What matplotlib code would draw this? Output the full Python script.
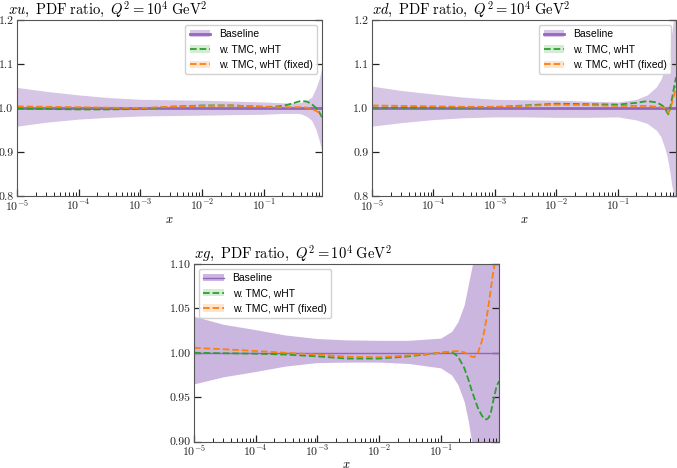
import numpy as np
import matplotlib
matplotlib.use("Agg")
import matplotlib.pyplot as plt
from matplotlib.lines import Line2D
from matplotlib.patches import Patch
from matplotlib.ticker import LogLocator, NullFormatter

plt.rcParams["font.family"] = "serif"
plt.rcParams["font.serif"] = ["cmr10"]
plt.rcParams["mathtext.fontset"] = "cm"
plt.rcParams["axes.formatter.use_mathtext"] = True
plt.rcParams["axes.unicode_minus"] = False

# ---- data ----
xu_x = [1e-5, 3e-5, 1e-4, 3e-4, 1e-3, 3e-3, 1e-2, 3e-2, 0.1, 0.15, 0.2, 0.25,
        0.3, 0.35, 0.4, 0.5, 0.6, 0.7, 0.8, 0.88]
xu_up = [1.047, 1.038, 1.030, 1.024, 1.020, 1.019, 1.018, 1.016, 1.014, 1.013,
         1.012, 1.012, 1.012, 1.012, 1.013, 1.017, 1.025, 1.045, 1.068, 1.094]
xu_lo = [0.959, 0.968, 0.975, 0.979, 0.982, 0.983, 0.984, 0.985, 0.986, 0.987,
         0.988, 0.988, 0.988, 0.988, 0.987, 0.981, 0.972, 0.952, 0.925, 0.900]
xu_wht = [0.999, 0.998, 0.997, 0.997, 0.998, 1.003, 1.006, 1.006, 1.003, 1.003,
          1.005, 1.008, 1.011, 1.014, 1.016, 1.015, 1.009, 1.001, 0.990, 0.979]
xu_fix = [1.004, 1.003, 1.002, 1.001, 1.000, 1.003, 1.005, 1.006, 1.003, 1.002,
          1.002, 1.002, 1.002, 1.002, 1.002, 1.001, 0.998, 0.994, 0.989, 0.983]

xd_x = [1e-5, 3e-5, 1e-4, 3e-4, 1e-3, 3e-3, 1e-2, 3e-2, 0.1, 0.2, 0.3, 0.42,
        0.5, 0.57, 0.62, 0.66, 0.7, 0.75, 0.82, 0.88]
xd_up = [1.050, 1.040, 1.032, 1.025, 1.020, 1.019, 1.018, 1.016, 1.014, 1.020,
         1.030, 1.048, 1.065, 1.086, 1.105, 1.125, 1.140, 1.170, 1.210, 1.250]
xd_lo = [0.959, 0.967, 0.974, 0.978, 0.980, 0.980, 0.979, 0.979, 0.980, 0.973,
         0.965, 0.950, 0.935, 0.912, 0.895, 0.875, 0.855, 0.825, 0.800, 0.795]
xd_wht = [1.001, 1.001, 1.001, 1.001, 1.002, 1.006, 1.010, 1.009, 1.008, 1.012,
          1.016, 1.013, 1.008, 1.002, 0.992, 0.986, 0.998, 1.018, 1.048, 1.070]
xd_fix = [1.006, 1.005, 1.004, 1.003, 1.003, 1.005, 1.008, 1.007, 1.005, 1.005,
          1.005, 1.003, 1.002, 1.001, 0.997, 0.989, 0.995, 1.010, 1.030, 1.050]

xg_x = [1e-5, 3e-5, 1e-4, 3e-4, 1e-3, 3e-3, 1e-2, 3e-2, 0.1, 0.15, 0.19, 0.24,
        0.28, 0.31, 0.35, 0.4, 0.45, 0.5, 0.55, 0.6, 0.65, 0.7, 0.75, 0.8, 0.88]
xg_up = [1.041, 1.032, 1.026, 1.020, 1.016, 1.0145, 1.014, 1.014, 1.0165, 1.024,
         1.035, 1.054, 1.077, 1.092, 1.110, 1.130, 1.150, 1.170, 1.190, 1.200,
         1.210, 1.220, 1.230, 1.240, 1.250]
xg_lo = [0.965, 0.973, 0.979, 0.985, 0.989, 0.9895, 0.9895, 0.988, 0.983, 0.975,
         0.964, 0.945, 0.923, 0.904, 0.885, 0.860, 0.840, 0.820, 0.800, 0.790,
         0.780, 0.770, 0.760, 0.750, 0.740]
xg_wht = [1.000, 0.9995, 0.999, 0.998, 0.996, 0.9935, 0.9935, 0.996, 1.000, 1.001,
          0.996, 0.983, 0.970, 0.960, 0.949, 0.938, 0.931, 0.926, 0.925, 0.927,
          0.933, 0.944, 0.953, 0.962, 0.968]
xg_fix = [1.0055, 1.004, 1.002, 1.000, 0.998, 0.9955, 0.995, 0.997, 1.000, 1.0015,
          1.002, 1.0005, 0.998, 0.996, 0.995, 1.000, 1.010, 1.022, 1.038, 1.055,
          1.072, 1.088, 1.100, 1.110, 1.120]

purple = "#9467bd"
green = "#2ca02c"
orange = "#ff7f0e"

fig = plt.figure(figsize=(6.77, 4.68), dpi=100)

panels = [
    ("u", [0.0251, 0.581, 0.4505, 0.376], xu_x, xu_up, xu_lo, xu_wht, xu_fix,
     (0.8, 1.2), [0.8, 0.9, 1.0, 1.1, 1.2], "upper right", 2.0, 0.38),
    ("d", [0.5495, 0.581, 0.449, 0.376], xd_x, xd_up, xd_lo, xd_wht, xd_fix,
     (0.8, 1.2), [0.8, 0.9, 1.0, 1.1, 1.2], "upper right", 2.0, 0.38),
    ("g", [0.2866, 0.0562, 0.4505, 0.380], xg_x, xg_up, xg_lo, xg_wht, xg_fix,
     (0.9, 1.1), [0.90, 0.95, 1.00, 1.05, 1.10], "upper left", 1.0, 0.48),
]

for flav, pos, x, up, lo, wht, fix, ylim, yticks, loc, blw, balpha in panels:
    ax = fig.add_axes(pos)
    ax.fill_between(x, lo, up, color=purple, alpha=balpha, lw=0)
    ax.axhline(1.0, color=purple, lw=blw)
    ax.plot(x, wht, color=green, ls="--", lw=1.3)
    ax.plot(x, fix, color=orange, ls="--", lw=1.3)

    ax.set_xscale("log")
    ax.set_xlim(1e-5, 0.88)
    ax.xaxis.set_major_locator(LogLocator(base=10, numticks=20))
    ax.xaxis.set_minor_locator(LogLocator(base=10, subs=np.arange(2, 10), numticks=100))
    ax.xaxis.set_minor_formatter(NullFormatter())
    ax.set_ylim(*ylim)
    ax.set_yticks(yticks)
    if flav == "g":
        ax.set_yticklabels([f"{v:.2f}" for v in yticks])
    else:
        ax.set_yticklabels([f"{v:.1f}" for v in yticks])
    ax.tick_params(which="both", direction="in", left=True, right=True,
                   top=False, bottom=True, labelsize=8.5, colors="#222222")
    ax.tick_params(axis="x", which="both", pad=1.5)
    ax.tick_params(axis="y", which="both", pad=2.5)
    ax.tick_params(which="major", length=5, width=0.9)
    ax.tick_params(which="minor", length=2.8, width=0.7)
    for s in ax.spines.values():
        s.set_color("#555555")
    ax.set_xlabel(r"$x$", fontsize=9, labelpad=0)

    title = (r"$x%s,\ \mathrm{PDF\;ratio},\ Q^2 = 10^4\;\mathrm{GeV}^2$" % flav)
    t = ax.set_title(title, loc="left", fontsize=10.5, pad=2)
    if flav == "u":
        t.set_x(-0.03)

    handles = [
        (Patch(facecolor=purple, alpha=balpha, lw=0), Line2D([], [], color=purple, lw=blw)),
        (Patch(facecolor=green, alpha=0.2, lw=0), Line2D([], [], color=green, ls="--", lw=1.3)),
        (Patch(facecolor=orange, alpha=0.2, lw=0), Line2D([], [], color=orange, ls="--", lw=1.3)),
    ]
    labels = ["Baseline", "w. TMC, wHT", "w. TMC, wHT (fixed)"]
    ax.legend(handles, labels, loc=loc, prop={"family": "Liberation Sans", "size": 7.5},
              handlelength=2.0, fancybox=True, framealpha=0.9, edgecolor="#cccccc")

fig.savefig("out.png", dpi=100)
